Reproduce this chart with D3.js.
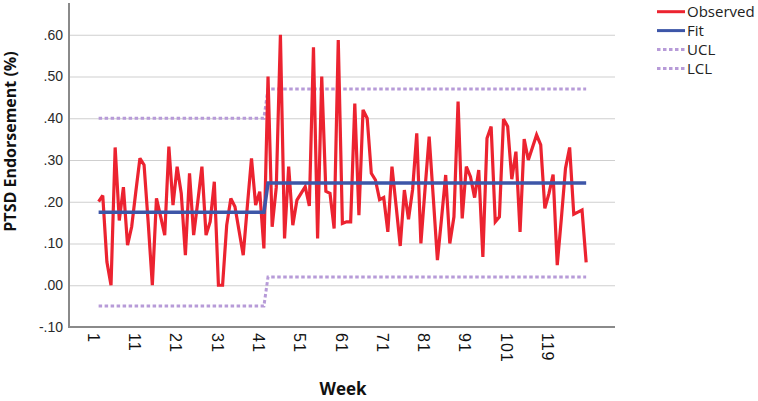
<!DOCTYPE html>
<html><head><meta charset="utf-8">
<script src="https://cdn.jsdelivr.net/npm/d3@7"></script>
<style>
body{margin:0;background:#fff;}
svg{display:block;font-family:"Open Sans",sans-serif;}
</style>
</head><body>
<svg id="c" width="758" height="401"></svg>
<script>
// ---- data ----
const weeks = d3.range(1, 120);
const observed = [
  0.20,0.215,0.056,0.00,0.33,0.155,0.235,0.096,0.14,0.224,
  0.304,0.288,0.15,0.00,0.208,0.165,0.12,0.332,0.192,0.284,
  0.22,0.072,0.268,0.12,0.20,0.284,0.12,0.152,0.248,0.00,
  0.00,0.144,0.208,0.188,0.13,0.072,0.19,0.304,0.192,0.224,
  0.088,0.50,0.14,0.235,0.60,0.112,0.284,0.144,0.204,0.22,
  0.236,0.19,0.57,0.112,0.50,0.225,0.22,0.136,0.587,0.148,
  0.152,0.152,0.435,0.168,0.42,0.40,0.268,0.252,0.205,0.21,
  0.128,0.284,0.19,0.094,0.228,0.158,0.23,0.364,0.10,0.23,
  0.356,0.21,0.06,0.16,0.264,0.10,0.164,0.44,0.16,0.284,
  0.26,0.21,0.276,0.068,0.352,0.38,0.152,0.164,0.398,0.38,
  0.254,0.32,0.128,0.35,0.30,0.33,0.36,0.336,0.184,0.22,
  0.265,0.048,0.16,0.28,0.33,0.17,0.175,0.18,0.055
];
const stepWeeks = [1, 41, 42, 119];
const fitValues = [0.175, 0.175, 0.245, 0.245];
const uclValues = [0.40, 0.40, 0.47, 0.47];
const lclValues = [-0.05, -0.05, 0.02, 0.02];
const xTickWeeks = [1, 11, 21, 31, 41, 51, 61, 71, 81, 91, 101, 111];
const xTickLabels = ["1","11","21","31","41","51","61","71","81","91","101","119"];
const yTicks = [-0.10, 0.00, 0.10, 0.20, 0.30, 0.40, 0.50, 0.60];
const yTickLabels = ["-.10", ".00", ".10", ".20", ".30", ".40", ".50", ".60"];
const legendItems = ["Observed", "Fit", "UCL", "LCL"];

// ---- layout ----
const L = 69, R = 615, T = 3, B = 327;
const svg = d3.select("#c");
const x = d3.scaleLinear().domain([-6.17, 125.98]).range([L, R]);
const y = d3.scaleLinear().domain([-0.1, 0.676]).range([B, T]);

const colors = {Observed: "#ec2330", Fit: "#3d56a8", UCL: "#b79bd8", LCL: "#b79bd8"};

// gridlines + y labels
const yAxis = d3.axisLeft(y).tickValues(yTicks).tickSize(-(R - L)).tickPadding(6)
  .tickFormat((d, i) => yTickLabels[i]);
const gy = svg.append("g").attr("transform", `translate(${L},0)`).call(yAxis);
gy.select(".domain").remove();
gy.selectAll(".tick line").attr("stroke", "#cfcfcf").attr("stroke-width", 1.2);
gy.selectAll(".tick text").attr("fill", "#2a2a2a").style("font-size", "14px")
  .attr("x", -6);

// x axis labels
const xAxis = d3.axisBottom(x).tickValues(xTickWeeks).tickSize(0)
  .tickFormat((d, i) => xTickLabels[i]);
const gx = svg.append("g").attr("transform", `translate(0,${B})`).call(xAxis);
gx.select(".domain").remove();
gx.selectAll(".tick text")
  .attr("fill", "#111").style("font-size", "16px").style("letter-spacing", "1px")
  .attr("text-anchor", "start").attr("dy", 0).attr("y", 0)
  .attr("transform", "translate(-11.5,6) rotate(90)");

// axis lines
svg.append("line").attr("x1", L).attr("x2", L).attr("y1", T).attr("y2", B + 1)
  .attr("stroke", "#8a8a8a").attr("stroke-width", 2);
svg.append("line").attr("x1", L - 1).attr("x2", R).attr("y1", B).attr("y2", B)
  .attr("stroke", "#8a8a8a").attr("stroke-width", 2);

// lines
const stepLine = vals => d3.line().x((d, i) => x(stepWeeks[i])).y((d, i) => y(vals[i]))(vals);
svg.append("path").attr("d", stepLine(uclValues)).attr("fill", "none")
  .attr("stroke", colors.UCL).attr("stroke-width", 3).attr("stroke-dasharray", "3.5,2.5");
svg.append("path").attr("d", stepLine(lclValues)).attr("fill", "none")
  .attr("stroke", colors.LCL).attr("stroke-width", 3).attr("stroke-dasharray", "3.5,2.5");

const obsLine = d3.line().x((d, i) => x(weeks[i])).y(d => y(d));
svg.append("path").attr("d", obsLine(observed)).attr("fill", "none")
  .attr("stroke", colors.Observed).attr("stroke-width", 3.2)
  .attr("stroke-linejoin", "miter").attr("stroke-miterlimit", 3);

svg.append("path").attr("d", stepLine(fitValues)).attr("fill", "none")
  .attr("stroke", colors.Fit).attr("stroke-width", 3.6);

// legend
const lg = svg.append("g");
legendItems.forEach((name, i) => {
  const cy = 11.7 + i * 18.9;
  const ln = lg.append("line").attr("x1", 657).attr("x2", 685).attr("y1", cy).attr("y2", cy)
    .attr("stroke", colors[name]).attr("stroke-width", 3);
  if (name === "UCL" || name === "LCL") ln.attr("stroke-dasharray", "3.5,2.5");
  lg.append("text").attr("x", 687).attr("y", cy + 5.5).text(name)
    .attr("fill", "#222").style("font-size", "15px");
});

// axis titles
svg.append("text").attr("transform", "translate(16,141.5) rotate(-90)")
  .attr("text-anchor", "middle").style("font-size", "16px").style("font-weight", "bold")
  .attr("fill", "#111").text("PTSD Endorsement (%)");
svg.append("text").attr("x", 343).attr("y", 395).attr("text-anchor", "middle")
  .style("font-size", "17px").style("font-weight", "bold").attr("fill", "#111").text("Week");
</script>
</body></html>
